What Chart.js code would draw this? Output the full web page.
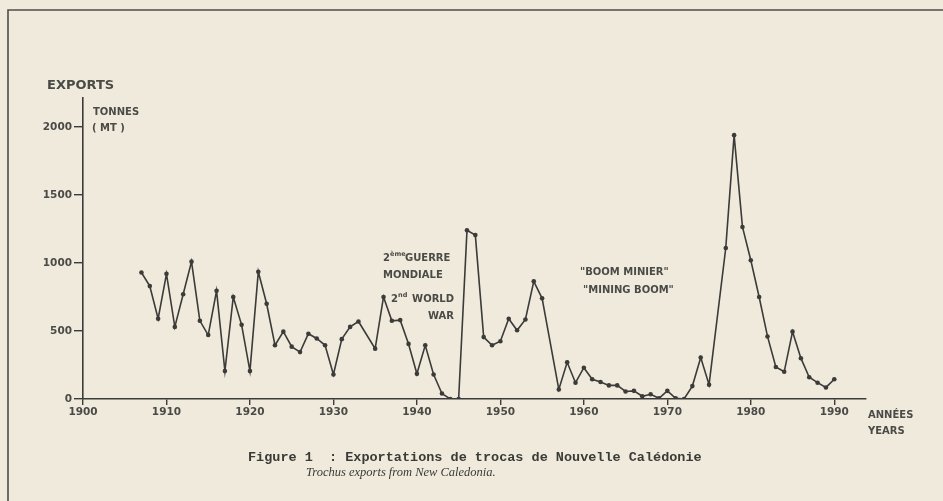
<!DOCTYPE html>
<html>
<head>
<meta charset="utf-8">
<script src="https://cdn.jsdelivr.net/npm/chart.js@4"></script>
<style>
  html, body { margin: 0; padding: 0; background: #efeadc; }
  #wrap { width: 943px; height: 501px; }
</style>
</head>
<body>
<div id="wrap"><canvas id="chart" width="943" height="501"></canvas></div>
<script>
// trochus exports, tonnes (MT)
const years = [
  1907, 1908, 1909, 1910, 1911, 1912, 1913, 1914, 1915, 1916,
  1917, 1918, 1919, 1920, 1921, 1922, 1923, 1924, 1925, 1926,
  1927, 1928, 1929, 1930, 1931, 1932, 1933, 1935, 1936, 1937,
  1938, 1939, 1940, 1941, 1942, 1943, 1944, 1945, 1946, 1947,
  1948, 1949, 1950, 1951, 1952, 1953, 1954, 1955, 1957, 1958,
  1959, 1960, 1961, 1962, 1963, 1964, 1965, 1966, 1967, 1968,
  1969, 1970, 1971, 1972, 1973, 1974, 1975, 1977, 1978, 1979,
  1980, 1981, 1982, 1983, 1984, 1985, 1986, 1987, 1988, 1989, 1990
];
const tonnes = [
  930, 830, 590, 920, 530, 770, 1010, 575, 470, 795,
  205, 750, 545, 205, 935, 700, 395, 495, 385, 345,
  480, 445, 395, 180, 440, 530, 570, 370, 750, 575,
  580, 405, 185, 395, 180, 40, 0, 0, 1240, 1205,
  455, 395, 425, 590, 505, 585, 865, 740, 70, 270,
  120, 230, 145, 125, 100, 100, 55, 60, 20, 35,
  5, 60, 5, 0, 95, 305, 105, 1110, 1940, 1265,
  1020, 750, 460, 235, 200, 495, 300, 160, 120, 85, 145
];
const yearTicks = [1900, 1910, 1920, 1930, 1940, 1950, 1960, 1970, 1980, 1990];
const tonneTicks = [0, 500, 1000, 1500, 2000];

const ink = '#3b3b39';
const labelInk = '#4a4a47';

// paper, frame and the hand-lettered labels
const paperPlugin = {
  id: 'paper',
  beforeDraw(chart) {
    const ctx = chart.ctx;
    ctx.save();
    ctx.fillStyle = '#efeadc';
    ctx.fillRect(0, 0, chart.width, chart.height);
    ctx.restore();
  },
  afterDraw(chart) {
    const ctx = chart.ctx;
    ctx.save();
    ctx.strokeStyle = '#4d4d4a';
    ctx.lineWidth = 1.6;
    ctx.beginPath();
    ctx.moveTo(8, 501);
    ctx.lineTo(8, 10);
    ctx.lineTo(943, 10);
    ctx.stroke();

    ctx.fillStyle = labelInk;
    ctx.textBaseline = 'middle';
    ctx.textAlign = 'left';
    ctx.font = 'bold 13px "DejaVu Sans"';
    ctx.fillText('EXPORTS', 47, 86);

    ctx.font = 'bold 10px "DejaVu Sans"';
    ctx.fillText('TONNES', 93, 112);
    ctx.fillText('( MT )', 92, 128);

    // war annotation
    ctx.font = 'bold 10px "DejaVu Sans"';
    ctx.fillText('2', 383, 258);
    ctx.font = 'bold 6.5px "DejaVu Sans"';
    ctx.fillText('ème', 390, 254);
    ctx.font = 'bold 10px "DejaVu Sans"';
    ctx.fillText('GUERRE', 405, 258);
    ctx.fillText('MONDIALE', 383, 275);
    ctx.fillText('2', 391, 299);
    ctx.font = 'bold 6.5px "DejaVu Sans"';
    ctx.fillText('nd', 398, 295);
    ctx.font = 'bold 10px "DejaVu Sans"';
    ctx.textAlign = 'right';
    ctx.fillText('WORLD', 454, 299);
    ctx.fillText('WAR', 454, 316);

    ctx.textAlign = 'left';
    ctx.fillText('"BOOM MINIER"', 580, 272);
    ctx.fillText('"MINING BOOM"', 583, 290);

    ctx.fillText('ANNÉES', 868, 415);
    ctx.fillText('YEARS', 868, 431);

    // caption
    ctx.fillStyle = '#3a3a37';
    ctx.font = 'bold 13.5px "Liberation Mono"';
    ctx.fillText('Figure 1  : Exportations de trocas de Nouvelle Calédonie', 248, 458);
    ctx.font = 'italic 12.5px "Liberation Serif"';
    ctx.fillText('Trochus exports from New Caledonia.', 306, 473);
    ctx.restore();
  }
};

const points = years.map((y, i) => ({ x: y, y: tonnes[i] }));

new Chart(document.getElementById('chart'), {
  type: 'line',
  data: {
    datasets: [{
      data: points,
      borderColor: ink,
      backgroundColor: ink,
      borderWidth: 1.6,
      tension: 0,
      pointRadius: 2.3,
      pointBackgroundColor: ink,
      pointBorderWidth: 0
    }]
  },
  options: {
    responsive: false,
    animation: false,
    layout: { padding: { left: 0, top: 98, right: 77, bottom: 0 } },
    plugins: { legend: { display: false }, tooltip: { enabled: false } },
    scales: {
      x: {
        type: 'linear',
        min: 1900,
        max: 1993.8,
        afterFit: (scale) => { scale.height = 102; },
        afterBuildTicks: (scale) => { scale.ticks = yearTicks.map(v => ({ value: v })); },
        ticks: {
          autoSkip: false,
          maxRotation: 0,
          padding: 1,
          color: labelInk,
          font: { family: 'DejaVu Sans', size: 10.5, weight: 'bold' },
          callback: (v) => String(v)
        },
        grid: { drawOnChartArea: false, drawTicks: true, tickLength: 6, color: ink, lineWidth: 1.4 },
        border: { display: true, color: ink, width: 1.6 }
      },
      y: {
        type: 'linear',
        min: 0,
        max: 2213,
        afterFit: (scale) => { scale.width = 83; },
        afterBuildTicks: (scale) => { scale.ticks = tonneTicks.map(v => ({ value: v })); },
        ticks: {
          autoSkip: false,
          padding: 2,
          color: labelInk,
          font: { family: 'DejaVu Sans', size: 10.5, weight: 'bold' },
          callback: (v) => String(v)
        },
        grid: { drawOnChartArea: false, drawTicks: true, tickLength: 9, color: ink, lineWidth: 1.4 },
        border: { display: true, color: ink, width: 1.6 }
      }
    }
  },
  plugins: [paperPlugin]
});
</script>
</body>
</html>
